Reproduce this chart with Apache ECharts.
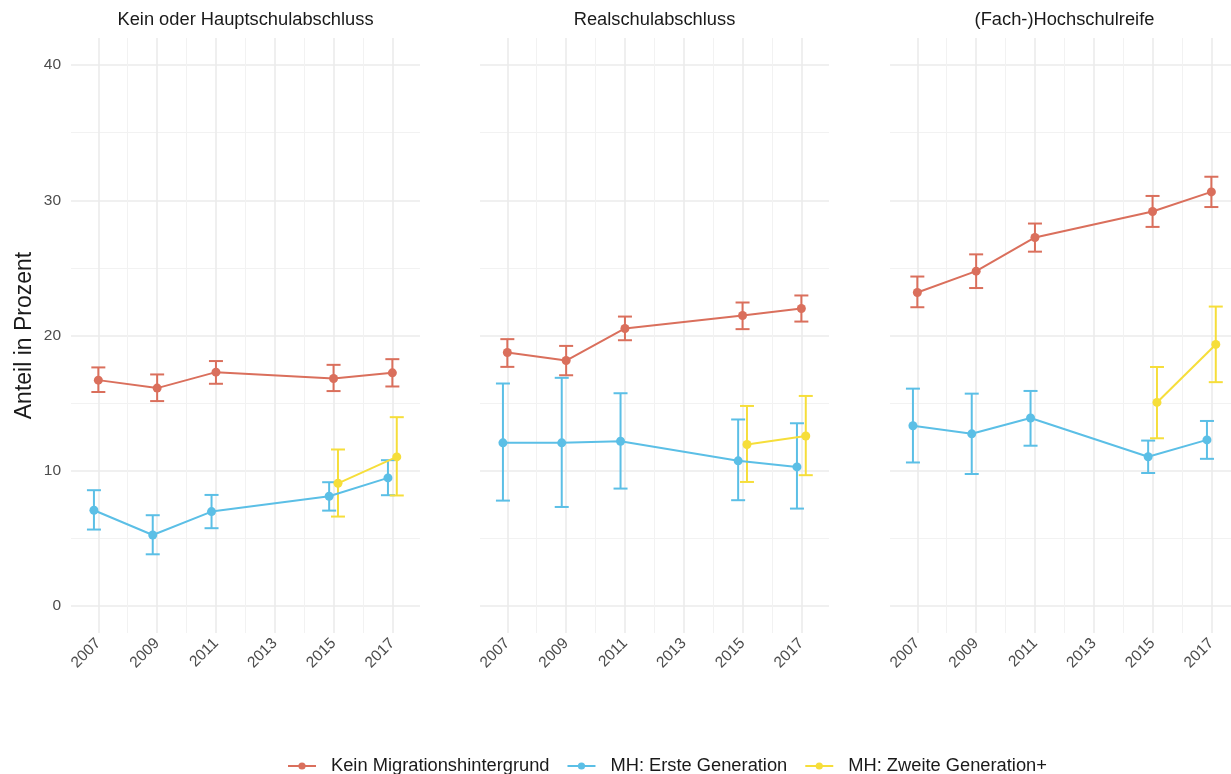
<!DOCTYPE html>
<html>
<head>
<meta charset="utf-8">
<script src="https://cdn.jsdelivr.net/npm/echarts@6/dist/echarts.min.js"></script>
<style>html,body{margin:0;padding:0;background:#fff;overflow:hidden}#chart{width:1231px;height:774px}</style>
</head>
<body>
<div id="chart"></div>
<script>
// ---------- data ----------
const panels = ['Kein oder Hauptschulabschluss', 'Realschulabschluss', '(Fach-)Hochschulreife'];
const groups = ['Kein Migrationshintergrund', 'MH: Erste Generation', 'MH: Zweite Generation+'];
const yearsAll = [2007, 2009, 2011, 2015, 2017];
const yearsGen2 = [2015, 2017];
const xTickLabels = [2007, 2009, 2011, 2013, 2015, 2017];
const xMinorTicks = [2008, 2010, 2012, 2014, 2016];
const yTickLabels = [0, 10, 20, 30, 40];
const yMinorTicks = [5, 15, 25, 35];

// per panel (rows: panels) values for each year
const keinMean = [
  [16.70, 16.11, 17.29, 16.82, 17.24],
  [18.74, 18.15, 20.52, 21.48, 22.00],
  [23.18, 24.76, 27.25, 29.17, 30.62]
];
const keinLow = [
  [15.82, 15.15, 16.43, 15.89, 16.23],
  [17.68, 17.06, 19.65, 20.47, 21.03],
  [22.09, 23.51, 26.20, 28.03, 29.50]
];
const keinHigh = [
  [17.64, 17.12, 18.11, 17.83, 18.25],
  [19.73, 19.23, 21.40, 22.44, 22.96],
  [24.36, 26.00, 28.28, 30.32, 31.74]
];
const erstMean = [
  [7.08, 5.25, 6.98, 8.11, 9.47],
  [12.06, 12.06, 12.18, 10.73, 10.28],
  [13.33, 12.73, 13.90, 11.03, 12.28]
];
const erstLow = [
  [5.65, 3.82, 5.75, 7.05, 8.19],
  [7.79, 7.32, 8.68, 7.82, 7.20],
  [10.61, 9.76, 11.85, 9.83, 10.88]
];
const erstHigh = [
  [8.56, 6.71, 8.21, 9.15, 10.78],
  [16.45, 16.87, 15.73, 13.79, 13.51],
  [16.07, 15.70, 15.90, 12.23, 13.68]
];
const zweitMean = [
  [9.07, 11.02],
  [11.94, 12.57],
  [15.05, 19.34]
];
const zweitLow = [
  [6.61, 8.17],
  [9.17, 9.67],
  [12.40, 16.55]
];
const zweitHigh = [
  [11.57, 13.96],
  [14.79, 15.53],
  [17.67, 22.14]
];

// ---------- styling / layout ----------
const colors = ['#DA6F5C', '#5BBFE6', '#F6DE3A'];
const dodge = [0, -0.15, 0.15];
const FONT = "'Liberation Sans', Arial, sans-serif";
const gridLeft = [71, 480, 890];
const gridW = 349, gridTop = 38, gridH = 595;
const xMin = 2006.07, xMax = 2017.94;
const yMin = -2, yMax = 42;

const groupData = [
  {years: yearsAll, mean: keinMean, low: keinLow, high: keinHigh},
  {years: yearsAll, mean: erstMean, low: erstLow, high: erstHigh},
  {years: yearsGen2, mean: zweitMean, low: zweitLow, high: zweitHigh}
];

const grids = [], xAxes = [], yAxes = [], series = [], graphics = [];

function renderErrorBar(params, api) {
  const x = api.value(0), lo = api.value(1), hi = api.value(2);
  const pLo = api.coord([x, lo]);
  const pHi = api.coord([x, hi]);
  const half = 7;
  const style = {stroke: api.visual('color'), lineWidth: 2, fill: null};
  return {
    type: 'group',
    children: [
      {type: 'line', shape: {x1: pLo[0], y1: pLo[1], x2: pHi[0], y2: pHi[1]}, style: style},
      {type: 'line', shape: {x1: pLo[0] - half, y1: pLo[1], x2: pLo[0] + half, y2: pLo[1]}, style: style},
      {type: 'line', shape: {x1: pHi[0] - half, y1: pHi[1], x2: pHi[0] + half, y2: pHi[1]}, style: style}
    ]
  };
}

panels.forEach(function (title, p) {
  grids.push({left: gridLeft[p], top: gridTop, width: gridW, height: gridH,
    containLabel: false, outerBoundsMode: 'none'});
  // main x axis (labels + major grid lines)
  xAxes.push({
    type: 'value', gridIndex: p, min: xMin, max: xMax, position: 'bottom',
    axisLine: {show: false},
    axisTick: {show: false, customValues: xTickLabels},
    axisLabel: {customValues: xTickLabels, rotate: 45, color: '#4d4d4d', fontSize: 15.5, fontFamily: FONT, margin: 8,
      formatter: function (v) { return String(v); }},
    splitLine: {show: true, lineStyle: {color: '#ebebeb', width: 1.6}}
  });
  // minor x grid lines
  xAxes.push({
    type: 'value', gridIndex: p, min: xMin, max: xMax, position: 'top',
    axisLine: {show: false},
    axisTick: {show: false, customValues: xMinorTicks},
    axisLabel: {show: false, customValues: xMinorTicks},
    splitLine: {show: true, lineStyle: {color: '#f2f2f2', width: 1}}
  });
  yAxes.push({
    type: 'value', gridIndex: p, min: yMin, max: yMax, position: 'left',
    axisLine: {show: false},
    axisTick: {show: false, customValues: yTickLabels},
    axisLabel: {show: p === 0, customValues: yTickLabels, color: '#4d4d4d', fontSize: 15.5, fontFamily: FONT, margin: 10},
    splitLine: {show: true, lineStyle: {color: '#ebebeb', width: 1.6}},
    name: p === 0 ? 'Anteil in Prozent' : '',
    nameLocation: 'middle', nameRotate: 90, nameGap: 35,
    nameTextStyle: {color: '#1a1a1a', fontSize: 23, fontFamily: FONT}
  });
  yAxes.push({
    type: 'value', gridIndex: p, min: yMin, max: yMax, position: 'right',
    axisLine: {show: false},
    axisTick: {show: false, customValues: yMinorTicks},
    axisLabel: {show: false, customValues: yMinorTicks},
    splitLine: {show: true, lineStyle: {color: '#f2f2f2', width: 1}}
  });

  graphics.push({
    type: 'text', x: gridLeft[p] + gridW / 2, y: 20,
    style: {text: title, textAlign: 'center', textVerticalAlign: 'middle', fontSize: 18.3, fontFamily: FONT, fill: '#1a1a1a'}
  });

  groupData.forEach(function (g, gi) {
    const xs = g.years.map(function (y) { return y + dodge[gi]; });
    series.push({
      type: 'custom', name: 'eb' + gi, xAxisIndex: 2 * p, yAxisIndex: 2 * p,
      renderItem: renderErrorBar,
      itemStyle: {color: colors[gi]},
      encode: {x: 0, y: [1, 2]},
      data: xs.map(function (x, i) { return [x, g.low[p][i], g.high[p][i]]; }),
      z: 2, silent: true, clip: false
    });
    series.push({
      type: 'line', name: groups[gi], xAxisIndex: 2 * p, yAxisIndex: 2 * p,
      data: xs.map(function (x, i) { return [x, g.mean[p][i]]; }),
      symbol: 'circle', symbolSize: 9, showSymbol: true,
      lineStyle: {color: colors[gi], width: 2},
      itemStyle: {color: colors[gi]},
      z: 3, animation: false
    });
  });
});

const chart = echarts.init(document.getElementById('chart'), null, {renderer: 'canvas'});
chart.setOption({
  animation: false,
  backgroundColor: '#ffffff',
  grid: grids,
  xAxis: xAxes,
  yAxis: yAxes,
  legend: {
    data: groups, left: 282, top: 752,
    itemWidth: 28, itemHeight: 9, itemGap: 17,
    textStyle: {color: '#1a1a1a', fontSize: 18.3, fontFamily: FONT, padding: [0, 0, 0, 10]}
  },
  graphic: graphics,
  series: series
});
</script>
</body>
</html>
